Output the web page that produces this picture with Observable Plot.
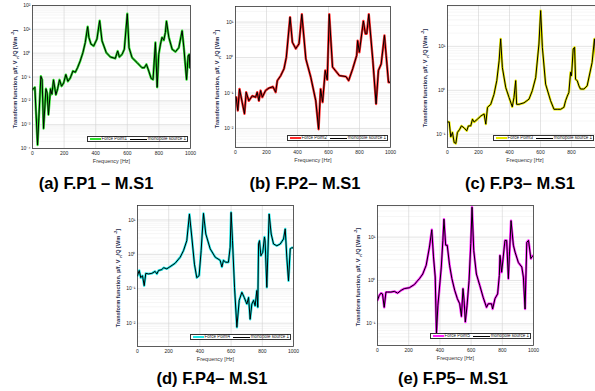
<!DOCTYPE html>
<html><head><meta charset="utf-8">
<script src="https://cdn.jsdelivr.net/npm/d3@7"></script>
<script src="https://cdn.jsdelivr.net/npm/@observablehq/plot@0.6"></script>
<style>
body{margin:0;background:#fff;}
#root{position:relative;width:595px;height:391px;overflow:hidden;background:#fff;font-family:"Liberation Sans",Arial,sans-serif;}
.panel{position:absolute;}
.panel svg{overflow:visible;}
.legend{position:absolute;box-sizing:border-box;background:#fff;border:0.8px solid #333;display:flex;align-items:center;font-size:4.5px;line-height:1;color:#111;white-space:nowrap;padding:0 1px;}
.legend .sw{display:inline-block;margin:0 1px;}
.ylab{position:absolute;white-space:nowrap;font-size:5.6px;font-weight:bold;line-height:6px;color:#1e2b4d;transform:translate(-50%,-50%) rotate(-90deg);}
.ylab sub,.ylab sup{font-size:4px;line-height:0;}
.cap{position:absolute;font-weight:bold;font-size:16.5px;line-height:16px;transform:translateX(-50%);white-space:nowrap;color:#000;}
</style>
</head><body><div id="root"></div>
<script>
// ---------- data ----------
const panelIds = ["a","b","c","d","e"];
const captions = ["(a) F.P1 \u2013 M.S1","(b) F.P2\u2013 M.S1","(c) F.P3\u2013 M.S1","(d) F.P4\u2013 M.S1","(e) F.P5\u2013 M.S1"];
const forceNames = ["Force Point1","Force Point2","Force Point3","Force Point4","Force Point5"];
const sourceName = "monopole source 1";
const colors = ["#2ee02e","#ff2a2a","#e8e800","#22e6e6","#ff22ff"];
const xTicks = [0,200,400,600,800,1000];
// y-axis title pieces: normal, subscript, normal, superscript, normal
const yLabelParts = ["Transform function, p/f, V ", "n", "/Q [Wm ", "-2", "]"];
const xLabel = "Frequency [Hz]";

const freqA = [2,15,32,53,61,70,85,93,101,114,123,133,148,159,171,184,197,211,224,239,256,271,285,302,319,334,349,357,370,387,408,425,440,467,493,524,539,550,567,581,600,611,630,662,693,708,721,736,751,763,778,789,799,810,820,831,841,848,863,884,905,926,947,958,975,985,992,996];
const tfA = [0.030,0.037,0.00014,0.107,0.078,0.00069,0.032,0.021,0.0026,0.032,0.019,0.076,0.018,0.032,0.076,0.041,0.056,0.126,0.066,0.091,0.178,0.158,0.245,0.47,1.05,2.8,12.9,4.6,2.4,2.0,3.9,23,3.3,1.05,0.69,0.60,1.23,0.69,0.89,1.45,45,1.7,0.65,0.40,0.245,0.245,0.34,0.178,0.087,0.078,2.8,0.037,0.89,2.4,4.6,3.5,7.4,22,4.6,1.45,1.15,1.7,8.7,1.7,0.078,0.76,0.89,0.245];

const freqB = [4,15,26,43,58,69,86,108,130,140,151,162,173,194,216,242,259,270,292,313,328,352,367,389,410,428,454,486,518,536,549,562,579,592,605,626,670,713,730,756,782,788,799,825,838,847,860,886,907,922,940,961,972,987,1000];
const tfB = [0.076,0.032,0.13,0.055,0.026,0.105,0.060,0.083,0.076,0.105,0.060,0.117,0.076,0.117,0.138,0.15,0.105,0.224,0.31,0.48,1.02,13.8,2.7,1.78,2.45,16.6,0.91,0.275,0.060,0.0095,0.13,0.055,0.43,0.235,16.6,0.54,0.31,0.29,0.224,0.48,1.15,3.0,1.41,10.7,4.7,4.7,16.6,0.83,0.049,0.43,0.66,4.2,1.15,0.20,0.20];

const freqC = [0,11,21,32,43,54,64,79,90,107,124,135,150,161,172,193,215,236,247,258,279,300,318,333,343,354,376,397,418,429,440,446,461,494,526,547,569,590,601,612,633,665,687,708,730,751,762,773,783,794,800,811,820,826,837,848,858,880,901,933,948,965,985,1000];
const tfC = [0.19,0.19,0.087,0.11,0.065,0.062,0.11,0.13,0.155,0.14,0.12,0.155,0.155,0.22,0.19,0.22,0.26,0.29,0.17,0.41,0.48,0.81,1.66,4.7,14.8,3.3,1.15,0.69,0.42,0.69,1.66,0.48,0.48,0.52,0.63,0.98,1.95,11.3,65,9.5,1.38,0.58,0.37,0.37,0.37,0.41,0.58,0.74,0.89,2.57,2.14,8.7,9.5,1.78,1.66,1.26,1.07,1.07,1.26,4.3,14.8,2.5,1.2,0.9];

const freqD = [0,11,21,32,43,53,71,92,113,124,135,156,167,188,209,241,274,295,316,333,348,365,380,395,408,423,438,466,498,530,541,551,566,583,594,600,609,622,637,652,669,684,701,712,722,733,744,754,765,771,776,782,791,803,814,818,829,835,844,857,872,893,915,936,947,957,968,979,989,1000];
const tfD = [0.24,0.34,0.21,0.24,0.123,0.28,0.27,0.28,0.32,0.27,0.34,0.36,0.41,0.38,0.44,0.55,0.83,1.29,2.5,14.8,3.2,0.52,0.21,0.24,1.29,15.5,3.9,1.45,0.83,0.67,0.43,0.67,0.59,0.59,1.62,16.6,2.5,0.11,0.0076,0.046,0.079,0.056,0.036,0.056,0.013,0.036,0.046,0.032,0.089,0.029,2.0,2.5,0.91,1.15,3.2,2.5,0.11,0.83,14.8,3.9,2.0,1.78,2.0,2.8,5.5,0.83,0.17,1.45,1.55,1.55];

const freqE = [0,11,22,32,43,54,65,86,108,129,151,172,204,237,254,269,290,312,333,348,359,370,378,387,409,419,426,437,447,462,477,495,512,527,538,548,555,563,574,587,598,606,617,634,656,677,699,710,731,738,753,770,781,785,796,806,817,828,839,845,856,871,882,903,925,935,946,957,968,983,989,1000];
const tfE = [0.35,0.45,0.51,0.49,0.24,0.54,0.54,0.54,0.56,0.51,0.59,0.65,0.68,0.81,0.96,1.10,1.41,2.24,5.9,14.8,3.5,1.20,0.059,0.26,2.04,8.4,26,6.5,6.5,2.24,1.10,0.59,0.38,0.29,0.148,0.65,0.35,0.11,0.26,1.0,7.1,49,4.9,1.41,0.76,0.41,0.24,0.29,0.29,0.22,0.38,0.49,1.31,3.8,1.55,3.5,8.4,8.4,1.10,3.5,24,6.5,4.5,2.6,2.04,1.20,0.22,7.6,8.4,3.2,3.5,3.8];

const yDomains = [[1e-4,100],[2.9e-3,27.5],[0.05,85],[2.1e-3,26.3],[0.0316,53.7]];
const yTicks = [[1e-4,1e-3,1e-2,1e-1,1,10,100],[1e-2,1e-1,1,10],[1e-1,1,10],[1e-2,1e-1,1,10],[1e-1,1,10]];

const series = [[freqA,tfA],[freqB,tfB],[freqC,tfC],[freqD,tfD],[freqE,tfE]];

// ---------- layout ----------
const layout = [
  {left:0,   top:0,   width:200, height:170, ml:32, mr:10, mt:5,  mb:22, ylab:-17},
  {left:200, top:0,   width:200, height:170, ml:35, mr:10, mt:6,  mb:23, ylab:-18},
  {left:400, top:0,   width:212, height:170, ml:47, mr:10, mt:5,  mb:23, ylab:-22},
  {left:100, top:195, width:203, height:175, ml:37, mr:10, mt:10, mb:24, ylab:-19},
  {left:340, top:195, width:203, height:175, ml:37, mr:10, mt:10, mb:25, ylab:-19}
];
const visibleMaxX = [1000, 1000, 800, 1000, 1000];
const capPos = [[96,175],[305,175],[520,175],[212,370],[453,370]];
const pageWidth = 595;

const supMap = {"-":"\u207B","0":"\u2070","1":"\u00B9","2":"\u00B2","3":"\u00B3","4":"\u2074","5":"\u2075"};
const fmt = d => "10" + String(Math.round(Math.log10(d))).split("").map(c => supMap[c]).join("");

const root = document.getElementById("root");

series.forEach(([fr, tf], i) => {
  if (fr.length !== tf.length) throw new Error("length mismatch in panel " + panelIds[i] + ": " + fr.length + " vs " + tf.length);
  const L = layout[i];
  const rows = fr.map((f, k) => ({f, v: tf[k]}));
  const [lo, hi] = yDomains[i];
  const minors = [];
  for (let e = Math.floor(Math.log10(lo)); e <= Math.ceil(Math.log10(hi)); e++)
    for (let m = 2; m <= 9; m++) { const v = m * Math.pow(10, e); if (v > lo && v < hi) minors.push(v); }
  const chart = Plot.plot({
    width: L.width, height: L.height,
    marginLeft: L.ml, marginRight: L.mr, marginTop: L.mt, marginBottom: L.mb,
    style: {fontFamily: "Liberation Sans, Arial, sans-serif", fontSize: "5px", color: "#222", background: "transparent", overflow: "visible"},
    x: {domain: [0, 1000]},
    y: {type: "log", domain: yDomains[i]},
    marks: [
      Plot.ruleY(minors, {stroke: "#ececec", strokeWidth: 0.5}),
      Plot.ruleY(yTicks[i], {stroke: "#d2d2d2", strokeWidth: 0.6}),
      Plot.ruleX([200, 400, 600, 800], {stroke: "#d2d2d2", strokeWidth: 0.6}),
      Plot.line(rows, {x: "f", y: "v", stroke: colors[i], strokeWidth: 2.4, clip: true}),
      Plot.line(rows, {x: "f", y: "v", stroke: "#000", strokeWidth: 1, clip: true}),
      Plot.frame({stroke: "#333", strokeWidth: 0.8}),
      Plot.axisX({ticks: xTicks.filter(t => t <= visibleMaxX[i]), tickFormat: d => String(d), tickSize: 0, tickPadding: 3, fontSize: 5, label: null}),
      Plot.axisY({ticks: yTicks[i], tickFormat: fmt, tickSize: 0, tickPadding: 2, fontSize: 5, label: null}),
      Plot.text([xLabel], {text: d => d, frameAnchor: "bottom", dy: 14, fontSize: 5.5, fill: "#333"})
    ]
  });
  const div = document.createElement("div");
  div.className = "panel";
  div.style.left = L.left + "px"; div.style.top = L.top + "px";
  div.style.width = L.width + "px"; div.style.height = L.height + "px";
  div.appendChild(chart);
  // rotated y-axis title with real sub/superscripts
  const yl = document.createElement("div");
  yl.className = "ylab";
  yl.innerHTML = `${yLabelParts[0]}<sub>${yLabelParts[1]}</sub>${yLabelParts[2]}<sup>${yLabelParts[3]}</sup>${yLabelParts[4]}`;
  yl.style.left = (L.ml + L.ylab) + "px";
  yl.style.top = ((L.mt + L.height - L.mb) / 2 + 2) + "px";
  div.appendChild(yl);
  // legend inside bottom-right of the frame (kept inside the page)
  const lg = document.createElement("div");
  lg.className = "legend";
  const frameBottom = L.height - L.mb;
  const rightEdge = Math.min(L.width - L.mr - 2, pageWidth - 1 - L.left);
  lg.style.left = (rightEdge - 101) + "px";
  lg.style.top = (frameBottom - 12) + "px";
  lg.style.width = "101px"; lg.style.height = "6px";
  lg.innerHTML = `<span class="sw" style="width:14px;height:2px;background:${colors[i]}"></span><span style="margin-right:2px">${forceNames[i]}</span><span class="sw" style="width:22px;height:1px;background:#000"></span><span>${sourceName}</span>`;
  div.appendChild(lg);
  root.appendChild(div);
});

captions.forEach((c, i) => {
  const d = document.createElement("div");
  d.className = "cap";
  d.textContent = c;
  d.style.left = capPos[i][0] + "px";
  d.style.top = capPos[i][1] + "px";
  root.appendChild(d);
});
</script>
</body></html>
